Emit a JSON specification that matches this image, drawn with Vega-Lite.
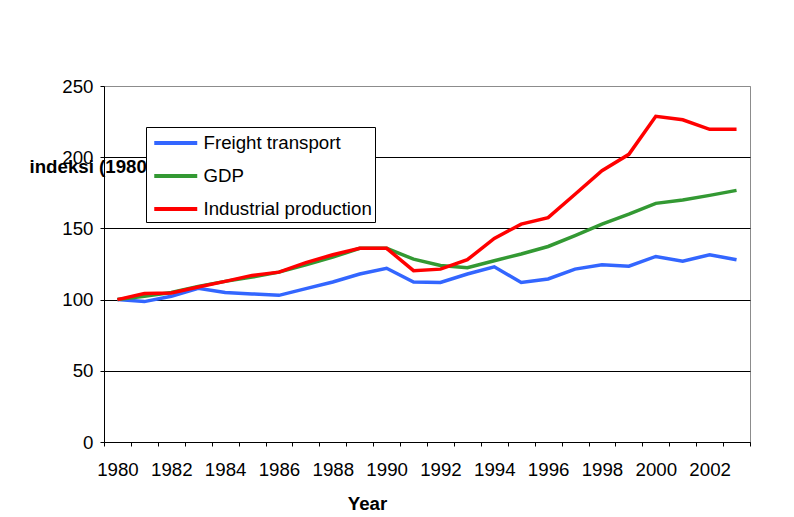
{
  "$schema": "https://vega.github.io/schema/vega-lite/v6.json",
  "width": 646,
  "height": 356,
  "autosize": {"type": "none"},
  "padding": {"left": 104, "top": 86, "right": 44, "bottom": 75},
  "background": "white",
  "config": {
    "font": "Liberation Sans",
    "view": {"stroke": "#8c8c8c", "strokeWidth": 1}
  },
  "data": {
    "values": [
      {"year": 1980, "Freight transport": 100, "GDP": 100, "Industrial production": 100},
      {"year": 1981, "Freight transport": 98.6, "GDP": 102.3, "Industrial production": 104.2},
      {"year": 1982, "Freight transport": 102.3, "GDP": 105, "Industrial production": 104.7},
      {"year": 1983, "Freight transport": 108, "GDP": 109.3, "Industrial production": 108.9},
      {"year": 1984, "Freight transport": 105, "GDP": 112.8, "Industrial production": 112.8},
      {"year": 1985, "Freight transport": 104, "GDP": 115.8, "Industrial production": 117},
      {"year": 1986, "Freight transport": 103, "GDP": 119.3, "Industrial production": 119.3},
      {"year": 1987, "Freight transport": 107.7, "GDP": 124.5, "Industrial production": 126},
      {"year": 1988, "Freight transport": 112.4, "GDP": 129.8, "Industrial production": 131.5},
      {"year": 1989, "Freight transport": 118, "GDP": 136, "Industrial production": 136},
      {"year": 1990, "Freight transport": 122, "GDP": 136, "Industrial production": 136},
      {"year": 1991, "Freight transport": 112.4, "GDP": 128.4, "Industrial production": 120.3},
      {"year": 1992, "Freight transport": 112, "GDP": 124, "Industrial production": 121.4},
      {"year": 1993, "Freight transport": 118, "GDP": 122.4, "Industrial production": 128},
      {"year": 1994, "Freight transport": 123, "GDP": 127.3, "Industrial production": 143},
      {"year": 1995, "Freight transport": 112, "GDP": 132, "Industrial production": 153},
      {"year": 1996, "Freight transport": 114.5, "GDP": 137.3, "Industrial production": 157.6},
      {"year": 1997, "Freight transport": 121.4, "GDP": 145, "Industrial production": 174},
      {"year": 1998, "Freight transport": 124.5, "GDP": 153, "Industrial production": 190.5},
      {"year": 1999, "Freight transport": 123.5, "GDP": 160, "Industrial production": 202},
      {"year": 2000, "Freight transport": 130.3, "GDP": 167.6, "Industrial production": 228.7},
      {"year": 2001, "Freight transport": 127, "GDP": 170, "Industrial production": 226.3},
      {"year": 2002, "Freight transport": 131.5, "GDP": 173.2, "Industrial production": 219.6},
      {"year": 2003, "Freight transport": 128, "GDP": 176.7, "Industrial production": 219.6}
    ]
  },
  "transform": [
    {"fold": ["Freight transport", "GDP", "Industrial production"], "as": ["series", "value"]}
  ],
  "mark": {"type": "line", "strokeWidth": 3.5, "strokeJoin": "miter"},
  "encoding": {
    "x": {
      "field": "year",
      "type": "ordinal",
      "bandPosition": 0.5,
      "scale": {"type": "band", "paddingInner": 0, "paddingOuter": 0},
      "axis": {
        "title": "Year",
        "titleFont": "Liberation Sans",
        "titleFontSize": 18.7,
        "titleFontWeight": "bold",
        "titleColor": "black",
        "titleX": 263,
        "titleY": 67,
        "titleAlign": "center",
        "titleBaseline": "alphabetic",
        "labelAngle": 0,
        "labelFontSize": 18.7,
        "labelColor": "black",
        "labelOverlap": false,
        "labelPadding": 14,
        "labelExpr": "datum.value % 2 == 0 ? datum.label : ''",
        "tickBand": "extent",
        "tickSize": 4,
        "tickColor": "black",
        "domainColor": "black",
        "grid": false
      }
    },
    "y": {
      "field": "value",
      "type": "quantitative",
      "scale": {"domain": [0, 250], "nice": false},
      "axis": {
        "values": [0, 50, 100, 150, 200, 250],
        "title": "indeksi (1980=100)",
        "titleFont": "Liberation Sans",
        "titleFontSize": 18.7,
        "titleFontWeight": "bold",
        "titleColor": "black",
        "titleAngle": 0,
        "titleAlign": "left",
        "titleBaseline": "alphabetic",
        "titleX": -75,
        "titleY": 86,
        "labelFontSize": 18.7,
        "labelColor": "black",
        "labelPadding": 7,
        "tickSize": 4,
        "tickColor": "black",
        "domainColor": "black",
        "grid": true,
        "gridColor": {"condition": {"test": "datum.value == 250", "value": "#8c8c8c"}, "value": "black"},
        "gridWidth": 1
      }
    },
    "color": {
      "field": "series",
      "type": "nominal",
      "scale": {
        "domain": ["Freight transport", "GDP", "Industrial production"],
        "range": ["#3366FF", "#339933", "#FF0000"]
      },
      "legend": {
        "title": null,
        "orient": "none",
        "legendX": 42,
        "legendY": 41,
        "zindex": 2,
        "fillColor": "white",
        "strokeColor": "black",
        "cornerRadius": 0,
        "padding": 3,
        "symbolType": "M-0.721,0H3.279",
        "symbolSize": 462,
        "symbolStrokeWidth": 4,
        "labelFontSize": 18.7,
        "labelFont": "Liberation Sans",
        "labelColor": "black",
        "labelOffset": 28.5,
        "labelLimit": 400,
        "rowPadding": 10
      }
    }
  }
}
